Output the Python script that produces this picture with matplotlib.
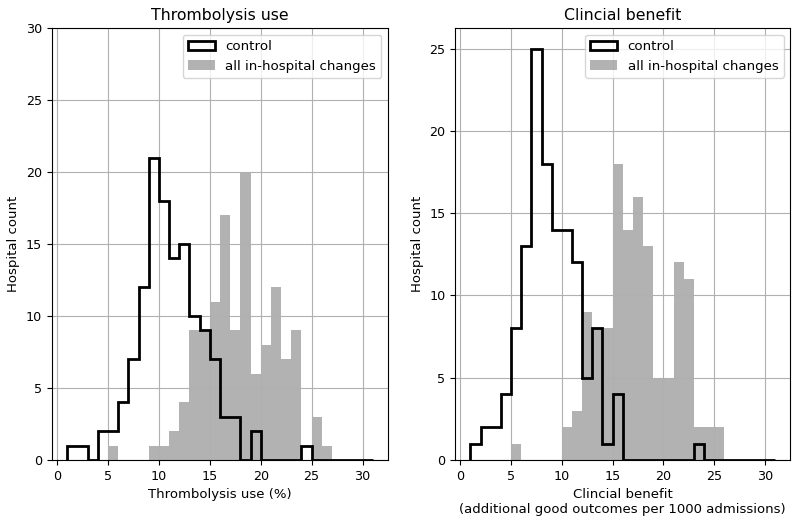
import numpy as np
import matplotlib
matplotlib.use("Agg")
import matplotlib.pyplot as plt

# bin edges: width-1 bins from 1 to 31
bin_edges = list(range(1, 32))

# Thrombolysis use (%) counts per bin [1,2), [2,3), ... [30,31)
thromb_control = [1, 1, 0, 2, 2, 4, 7, 12, 21, 18, 14, 15, 10, 9, 7, 3, 3, 0, 2, 0,
                  0, 0, 0, 1, 0, 0, 0, 0, 0, 0]
thromb_all = [0, 0, 0, 0, 1, 0, 0, 0, 1, 1, 2, 4, 9, 9, 11, 17, 9, 20, 6, 8,
              12, 7, 9, 0, 3, 1, 0, 0, 0, 0]

# Clinical benefit counts per bin
benefit_control = [1, 2, 2, 4, 8, 13, 25, 18, 14, 14, 12, 5, 8, 1, 4, 0, 0, 0, 0, 0,
                   0, 0, 1, 0, 0, 0, 0, 0, 0, 0]
benefit_all = [0, 0, 0, 0, 1, 0, 0, 0, 0, 2, 3, 9, 8, 8, 18, 14, 16, 13, 5, 5,
               12, 11, 2, 2, 2, 0, 0, 0, 0, 0]

titles = ["Thrombolysis use", "Clincial benefit"]
xlabels = ["Thrombolysis use (%)",
           "Clincial benefit\n(additional good outcomes per 1000 admissions)"]
legend_labels = ["control", "all in-hospital changes"]

fig = plt.figure(figsize=(8, 5.23), dpi=100)
ax1 = fig.add_axes([0.065, 0.1205, 0.42, 0.826])
ax2 = fig.add_axes([0.569, 0.1205, 0.419, 0.826])

edges = np.array(bin_edges)
lefts = edges[:-1]

for ax, ctrl, allc, title, xl in [(ax1, thromb_control, thromb_all, titles[0], xlabels[0]),
                                  (ax2, benefit_control, benefit_all, titles[1], xlabels[1])]:
    ax.hist(lefts, bins=edges, weights=ctrl, histtype='step', color='k', lw=2,
            label=legend_labels[0], zorder=3)
    ax.hist(lefts, bins=edges, weights=allc, color='grey', alpha=0.6,
            label=legend_labels[1], zorder=1)
    ax.grid(True)
    ax.set_title(title, fontsize=11.3)
    ax.set_xlabel(xl, fontsize=9.5)
    ax.set_ylabel("Hospital count", fontsize=9.5)
    ax.tick_params(labelsize=9.2)
    ax.set_xticks(range(0, 31, 5))
    ax.legend(loc='upper right', fontsize=9.6)

ax1.set_ylim(0, 30)

fig.savefig("out.png", dpi=100)
